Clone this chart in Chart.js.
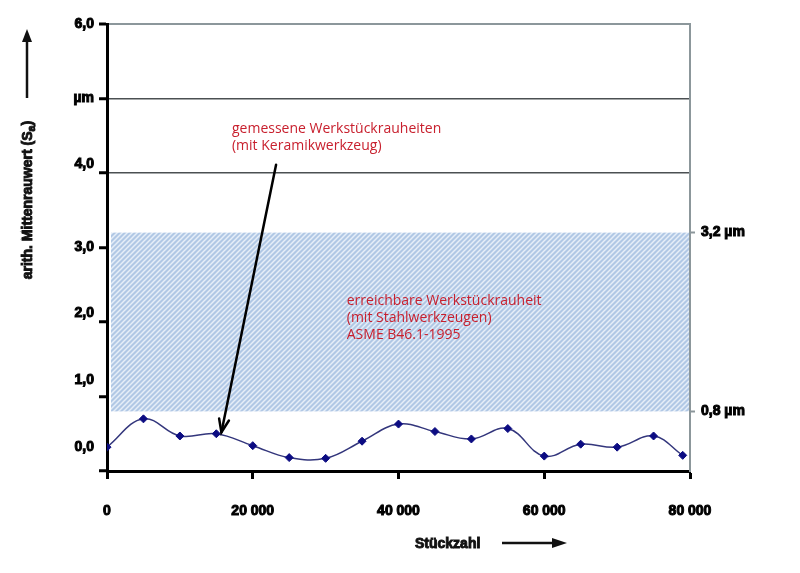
<!DOCTYPE html>
<html lang="de">
<head>
<meta charset="utf-8">
<title>Werkstückrauheit</title>
<script src="https://cdn.jsdelivr.net/npm/chart.js@4.4.1/dist/chart.umd.min.js"></script>
<style>
  html, body { margin: 0; padding: 0; background: #fff; }
  #wrap { width: 800px; height: 573px; }
</style>
</head>
<body>
<div id="wrap"><canvas id="chart" width="800" height="573"></canvas></div>
<script>
/* ---- Daten ---- */
const stueckzahl = [0, 5000, 10000, 15000, 20000, 25000, 30000, 35000, 40000,
                    45000, 50000, 55000, 60000, 65000, 70000, 75000, 79000];
const rauheit = [0.32, 0.70, 0.47, 0.50, 0.34, 0.18, 0.17, 0.40, 0.63,
                 0.53, 0.43, 0.57, 0.20, 0.36, 0.32, 0.47, 0.21];

const yTickValues = [0, 0.32, 1, 2, 3, 4, 5, 6];
const yTickLabels = ['', '0,0', '1,0', '2,0', '3,0', '4,0', 'µm', '6,0'];
const xTickValues = [0, 20000, 40000, 60000, 80000];
const xTickLabels = ['0', '20 000', '40 000', '60 000', '80 000'];
const bandRange = [0.8, 3.2];
const bandLabels = ['0,8 µm', '3,2 µm'];

// in the original print some y labels sit a little above their tick (in half lines)
const yLabelLift = [0, 0, 2, 1, 0, 1, 0, 0];

const RED = '#c8202e';
const GRAY = '#8c979b';
const DARK = '#4b5052';
const AXIS_FONT = { family: '"Liberation Sans", Arial, sans-serif', size: 14, weight: 'bold' };

// hatched fill for the steel-tool band
function makePattern(ctx) {
    const s = 5;
    const c = document.createElement('canvas');
    c.width = s; c.height = s;
    const p = c.getContext('2d');
    p.fillStyle = '#b1c8e5';
    p.fillRect(0, 0, s, s);
    p.strokeStyle = '#e6eef8';
    p.lineWidth = 1.5;
    p.beginPath();
    p.moveTo(0, s); p.lineTo(s, 0);
    p.moveTo(-1, 1); p.lineTo(1, -1);
    p.moveTo(s - 1, s + 1); p.lineTo(s + 1, s - 1);
    p.stroke();
    return ctx.createPattern(c, 'repeat');
}

function arrowHead(ctx, x1, y1, x2, y2, len, half, filled) {
    const a = Math.atan2(y2 - y1, x2 - x1);
    const bx = x2 - len * Math.cos(a), by = y2 - len * Math.sin(a);
    const nx = -Math.sin(a) * half, ny = Math.cos(a) * half;
    ctx.beginPath();
    ctx.moveTo(bx + nx, by + ny);
    ctx.lineTo(x2, y2);
    ctx.lineTo(bx - nx, by - ny);
    if (filled) { ctx.closePath(); ctx.fill(); } else { ctx.stroke(); }
}

function boldText(ctx, txt, x, y) {
    ctx.strokeText(txt, x, y);
    ctx.fillText(txt, x, y);
}

const bandPlugin = {
    id: 'band',
    beforeDatasetsDraw(chart) {
        const { ctx, chartArea, scales } = chart;
        const top = scales.y.getPixelForValue(bandRange[1]);
        const bottom = scales.y.getPixelForValue(bandRange[0]);
        ctx.save();
        ctx.fillStyle = makePattern(ctx);
        ctx.fillRect(chartArea.left + 4, top, chartArea.right - chartArea.left - 5, bottom - top);
        ctx.restore();
    }
};

const textPlugin = {
    id: 'texts',
    afterDraw(chart) {
        const { ctx, scales: { x, y } } = chart;
        ctx.save();

        // red annotations
        ctx.fillStyle = RED;
        ctx.font = '14px "Open Sans", sans-serif';
        ctx.textAlign = 'left';
        ctx.textBaseline = 'alphabetic';
        const t1x = x.getPixelForValue(17150), t1y = y.getPixelForValue(4.54);
        ctx.fillText('gemessene Werkstückrauheiten', t1x, t1y);
        ctx.fillText('(mit Keramikwerkzeug)', t1x, t1y + 17);
        const t2x = x.getPixelForValue(32900), t2y = y.getPixelForValue(2.23);
        ctx.fillText('erreichbare Werkstückrauheit', t2x, t2y);
        ctx.fillText('(mit Stahlwerkzeugen)', t2x, t2y + 17);
        ctx.fillText('ASME B46.1-1995', t2x, t2y + 34);

        // arrow to the measured curve
        const ax1 = x.getPixelForValue(23200), ay1 = y.getPixelForValue(4.11);
        const ax2 = x.getPixelForValue(15700), ay2 = y.getPixelForValue(0.52);
        ctx.strokeStyle = '#000';
        ctx.lineWidth = 2.5;
        ctx.lineCap = 'round';
        ctx.beginPath();
        ctx.moveTo(ax1, ay1);
        ctx.lineTo(ax2, ay2);
        ctx.stroke();
        arrowHead(ctx, ax1, ay1, ax2, ay2, 13, 5, false);

        // y axis title with subscript
        ctx.fillStyle = '#111';
        ctx.strokeStyle = '#111';
        ctx.lineWidth = 0.9;
        ctx.lineCap = 'butt';
        ctx.save();
        ctx.translate(32, 200);
        ctx.rotate(-Math.PI / 2);
        const main = 'arith. Mittenrauwert (S';
        const big = 'bold 14px "Liberation Sans", Arial, sans-serif';
        const small = 'bold 11px "Liberation Sans", Arial, sans-serif';
        ctx.font = big;
        const w1 = ctx.measureText(main).width;
        const w3 = ctx.measureText(')').width;
        ctx.font = small;
        const w2 = ctx.measureText('a').width;
        let u = -(w1 + w2 + w3) / 2;
        ctx.font = big;
        boldText(ctx, main, u, 0);
        u += w1;
        ctx.font = small;
        boldText(ctx, 'a', u, 3);
        u += w2;
        ctx.font = big;
        boldText(ctx, ')', u, 0);
        ctx.restore();

        // y axis arrow
        ctx.lineWidth = 2.5;
        ctx.beginPath();
        ctx.moveTo(27, 98);
        ctx.lineTo(27, 38);
        ctx.stroke();
        arrowHead(ctx, 27, 98, 27, 29, 13, 5, true);

        // x axis title + arrow
        ctx.font = big;
        ctx.lineWidth = 0.9;
        boldText(ctx, 'Stückzahl', 415, 548);
        ctx.lineWidth = 2.5;
        ctx.beginPath();
        ctx.moveTo(502, 543);
        ctx.lineTo(556, 543);
        ctx.stroke();
        arrowHead(ctx, 502, 543, 567, 543, 15, 5, true);

        ctx.restore();
    }
};

new Chart(document.getElementById('chart'), {
    type: 'line',
    data: {
        datasets: [{
            data: stueckzahl.map((s, i) => ({ x: s, y: rauheit[i] })),
            borderColor: '#33367c',
            borderWidth: 1.5,
            tension: 0.4,
            pointStyle: 'rectRot',
            pointRadius: 4,
            pointBackgroundColor: '#0c0c82',
            pointBorderColor: '#0c0c82',
            pointBorderWidth: 1
        }]
    },
    options: {
        responsive: false,
        animation: false,
        events: [],
        layout: { padding: { top: 24, left: 0, right: 0, bottom: 0 } },
        plugins: { legend: { display: false }, tooltip: { enabled: false } },
        scales: {
            x: {
                type: 'linear', min: 0, max: 80000,
                afterBuildTicks: s => { s.ticks = xTickValues.map(v => ({ value: v })); },
                afterFit: s => { s.height = 102; },
                ticks: {
                    callback: v => xTickLabels[xTickValues.indexOf(v)],
                    font: AXIS_FONT, color: '#000', padding: 24, maxRotation: 0, autoSkip: false,
                    textStrokeColor: '#000', textStrokeWidth: 1
                },
                grid: { drawOnChartArea: false, tickColor: '#000', tickLength: 8, tickWidth: 3 },
                border: { color: '#000', width: 3 }
            },
            y: {
                type: 'linear', position: 'left', min: 0, max: 6,
                afterBuildTicks: s => { s.ticks = yTickValues.map(v => ({ value: v })); },
                afterFit: s => { s.width = 107; },
                ticks: {
                    callback: v => {
                        const i = yTickValues.indexOf(v);
                        const lift = yLabelLift[i];
                        return lift ? [yTickLabels[i]].concat(new Array(lift).fill('')) : yTickLabels[i];
                    },
                    font: AXIS_FONT, color: '#000', padding: 5, autoSkip: false,
                    textStrokeColor: '#000', textStrokeWidth: 1
                },
                grid: {
                    color: c => c.tick.value === 6 ? GRAY : (c.tick.value >= 4 ? DARK : 'rgba(0,0,0,0)'),
                    lineWidth: c => c.tick.value === 6 ? 2 : 1.5,
                    tickColor: c => c.tick.value === 0.32 ? 'rgba(0,0,0,0)' : '#000',
                    tickLength: 8, tickWidth: 3
                },
                border: { color: '#000', width: 3 }
            },
            y2: {
                type: 'linear', position: 'right', min: 0, max: 6,
                afterBuildTicks: s => { s.ticks = bandRange.map(v => ({ value: v })); },
                afterFit: s => { s.width = 110; },
                ticks: {
                    callback: v => bandLabels[bandRange.indexOf(v)],
                    font: AXIS_FONT, color: '#000', padding: 6, autoSkip: false,
                    textStrokeColor: '#000', textStrokeWidth: 1
                },
                grid: { drawOnChartArea: false, tickColor: GRAY, tickLength: 5, tickWidth: 2 },
                border: { color: GRAY, width: 2 }
            }
        }
    },
    plugins: [bandPlugin, textPlugin]
});
</script>
</body>
</html>
